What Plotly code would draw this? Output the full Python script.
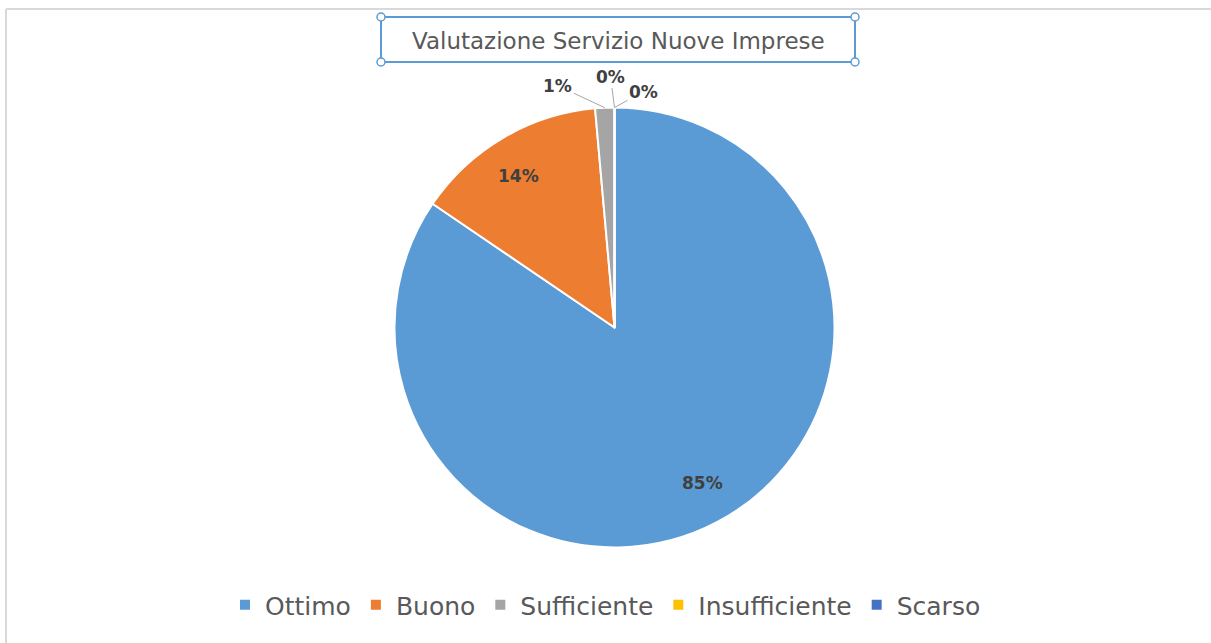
import math
import plotly.graph_objects as go

# ---- data ----
categories = ["Ottimo", "Buono", "Sufficiente", "Insufficiente", "Scarso"]
counts = [60, 10, 1, 0, 0]
colors = ["#5B9BD5", "#ED7D31", "#A5A5A5", "#FFC000", "#4472C4"]
title_text = "Valutazione Servizio Nuove Imprese"

W, H = 1211, 643

def px(x):
    return x / W

def py(y):
    return 1 - y / H

# pie geometry (pixels)
CX, CY, R = 614.5, 327.5, 220

fig = go.Figure()
fig.add_trace(go.Pie(
    labels=categories,
    values=counts,
    sort=False,
    direction="clockwise",
    rotation=0,
    marker=dict(colors=colors, line=dict(color="white", width=2)),
    textinfo="none",
    domain=dict(x=[px(CX - R), px(CX + R)], y=[py(CY + R), py(CY - R)]),
    hoverinfo="label+percent",
    showlegend=True,
))

# data labels computed from the values
total = sum(counts)
label_font = dict(family="DejaVu Sans, sans-serif", size=17, color="#404040")
# label placement style: (inside radius fraction) or (outside pixel offsets)
placement = [("in", 0.86), ("in", 0.86), ("out", (-47, -22)), ("out", (-4, -31)), ("out", (29, -16))]
annotations = []
cum = 0
for name, v, plc in zip(categories, counts, placement):
    mid = 2 * math.pi * (cum + v / 2) / total
    cum += v
    pct = f"<b>{round(100 * v / total)}%</b>"
    kind, arg = plc
    if kind == "in":
        x = CX + arg * R * math.sin(mid)
        y = CY - arg * R * math.cos(mid)
        annotations.append(dict(text=pct, x=px(x), y=py(y), xref="paper", yref="paper",
                                showarrow=False, font=label_font))
    else:
        x = CX + R * math.sin(mid)
        y = CY - R * math.cos(mid)
        annotations.append(dict(text=pct, x=px(x), y=py(y), xref="paper", yref="paper",
                                showarrow=True, arrowhead=0, arrowwidth=1, arrowcolor="#A6A6A6",
                                ax=arg[0], ay=arg[1], standoff=0, font=label_font))

annotations.append(dict(text=title_text, xref="paper", yref="paper", x=px(618), y=py(41),
                        xanchor="center", yanchor="middle", showarrow=False,
                        font=dict(family="DejaVu Sans, sans-serif", size=23, color="#595959")))

shapes = []
# screenshot frame lines
shapes.append(dict(type="line", xref="paper", yref="paper", x0=px(6), x1=1, y0=py(9), y1=py(9),
                   line=dict(color="#d9d9d9", width=2)))
shapes.append(dict(type="line", xref="paper", yref="paper", x0=px(6), x1=px(6), y0=py(9), y1=0,
                   line=dict(color="#d9d9d9", width=2)))
# title selection box
bx0, bx1, by0, by1 = 381, 855, 17, 62
shapes.append(dict(type="rect", xref="paper", yref="paper", x0=px(bx0), x1=px(bx1), y0=py(by1), y1=py(by0),
                   line=dict(color="#5B9BD5", width=2), fillcolor="rgba(0,0,0,0)"))
r = 4
for cx in (bx0, bx1):
    for cy in (by0, by1):
        shapes.append(dict(type="circle", xref="paper", yref="paper",
                           x0=px(cx - r), x1=px(cx + r), y0=py(cy + r), y1=py(cy - r),
                           line=dict(color="#5B9BD5", width=1.5), fillcolor="white"))

fig.update_layout(
    width=W, height=H,
    margin=dict(l=0, r=0, t=0, b=0),
    paper_bgcolor="white",
    plot_bgcolor="white",
    shapes=shapes,
    annotations=annotations,
    legend=dict(orientation="h", x=0.5, xanchor="center", y=py(605), yanchor="middle",
                font=dict(family="DejaVu Sans, sans-serif", size=25, color="#595959"),
                itemwidth=30, traceorder="normal"),
)

fig.write_html("out.html", config={"displayModeBar": False},
               post_script="document.body.style.margin='0px';")
